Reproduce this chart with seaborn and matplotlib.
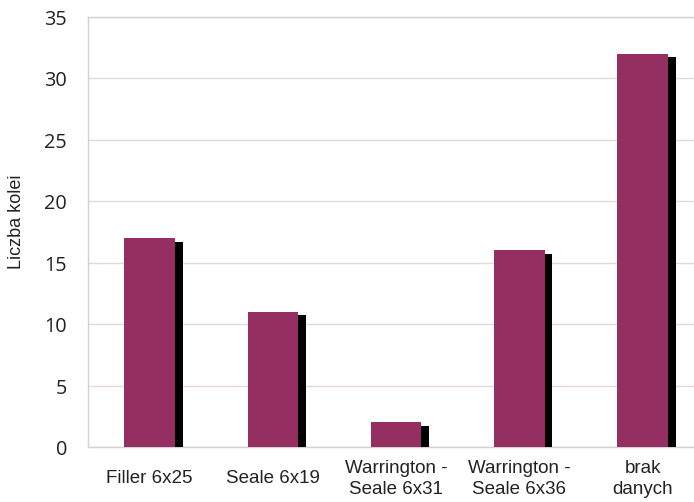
import matplotlib
matplotlib.use("Agg")
import matplotlib.pyplot as plt
import matplotlib.patheffects as pe
import matplotlib.transforms as mtransforms
import seaborn as sns
import pandas as pd

categories = ["Filler 6x25", "Seale 6x19", "Warrington -\nSeale 6x31",
              "Warrington -\nSeale 6x36", "brak\ndanych"]
counts = [17, 11, 2, 16, 32]
y_ticks = [0, 5, 10, 15, 20, 25, 30, 35]

df = pd.DataFrame({"typ": categories, "liczba": counts})

sns.set_theme(style="white")
fig = plt.figure(figsize=(6.94, 5.021), dpi=100)
ax = fig.add_axes([0.1268, 0.1096, 0.888, 0.8566])
ax.patch.set_edgecolor("none")

sns.barplot(data=df, x="typ", y="liczba", color="#952f61", saturation=1,
            width=0.41, ax=ax, zorder=3)

# drop shadow behind each bar
for patch in ax.patches:
    patch.set_path_effects([
        pe.SimplePatchShadow(offset=(5.5, -2.5), shadow_rgbFace="black", alpha=1.0),
        pe.Normal(),
    ])
    patch.set_linewidth(0)

ax.set_ylim(0, 35)
ax.set_xlim(-0.5, 4.5)
ax.set_yticks(y_ticks)
ax.set_yticklabels([])
ax.tick_params(axis="y", length=0)

# y tick labels sit a little below their gridlines
label_tr = mtransforms.offset_copy(ax.get_yaxis_transform(), fig=fig,
                                   x=-21, y=-3, units="dots")
for t in y_ticks:
    ax.text(0, t, str(t), transform=label_tr, ha="right", va="center",
            fontsize=14.3, family="Open Sans", color="#222222")

ax.tick_params(axis="x", pad=0, length=0)
ax.set_xticks(range(len(categories)))
ax.set_xticklabels(categories, fontsize=13.5, family="Liberation Sans",
                   color="#222222", va="center", linespacing=1.3)
for lbl in ax.get_xticklabels():
    lbl.set_y(-0.074)

ax.yaxis.grid(True, color="#e6d8d8", linewidth=1.0, zorder=0)
ax.xaxis.grid(False)
ax.set_axisbelow(True)

for side in ["left", "top", "bottom"]:
    ax.spines[side].set_color("#d6d0d0")
    ax.spines[side].set_linewidth(1.0)
ax.spines["right"].set_visible(False)

ax.set_xlabel("")
ax.set_ylabel("Liczba kolei", fontsize=13, family="Liberation Sans",
              color="#222222")
ax.yaxis.set_label_coords(-0.102, 0.523)

fig.savefig("out.png", dpi=100)
